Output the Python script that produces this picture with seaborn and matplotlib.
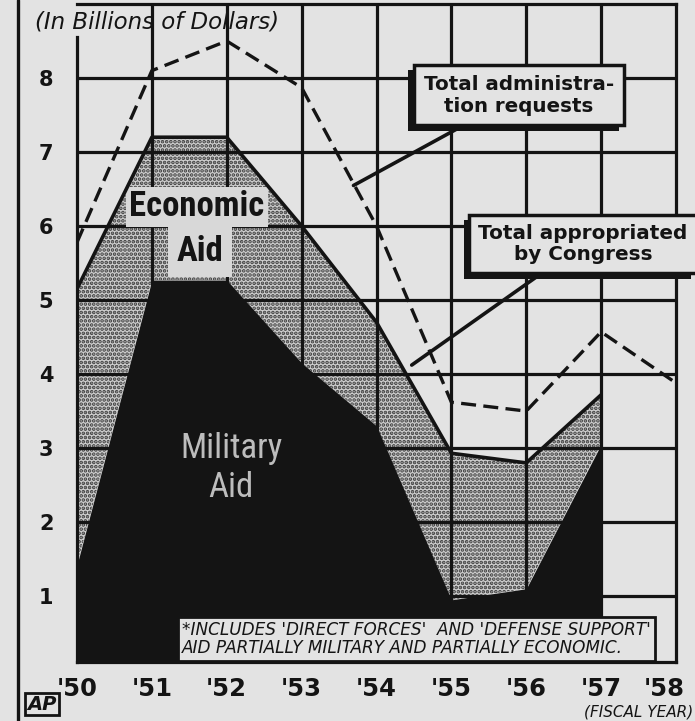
import matplotlib
matplotlib.use('Agg')
import numpy as np
import pandas as pd
import seaborn as sns
import matplotlib.pyplot as plt
import matplotlib.patheffects as pe
from matplotlib.lines import Line2D
from matplotlib.transforms import ScaledTranslation

# values (billions of dollars, fiscal years)
years = [1950, 1951, 1952, 1953, 1954, 1955, 1956, 1957, 1958]
year_labels = ["'50", "'51", "'52", "'53", "'54", "'55", "'56", "'57", "'58"]
requests = [5.78, 8.1, 8.5, 7.87, 6.0, 3.62, 3.5, 4.57, 3.88]
appropriated = [5.15, 7.2, 7.2, 6.0, 4.7, 2.93, 2.8, 3.72, np.nan]
military = [1.42, 5.27, 5.27, 4.15, 3.3, 0.95, 1.1, 3.05, np.nan]
y_ticks = [1, 2, 3, 4, 5, 6, 7, 8]

df = pd.DataFrame({'year': years, 'requests': requests,
                   'appropriated': appropriated, 'military': military})
aid = df.dropna()

paper = '#e3e3e3'
ink = '#141414'

sns.set_style('white')
plt.rcParams['font.family'] = ['DejaVu Sans']
plt.rcParams['hatch.linewidth'] = 1.8
plt.rcParams['hatch.color'] = '#3c3c3c'

fig = plt.figure(figsize=(6.95, 7.21), dpi=100, facecolor=paper)
ax = fig.add_axes([77 / 695, 59 / 721, 599 / 695, 658 / 721])
ax.set_facecolor(paper)

# economic aid band (dot screen), then grid, then military aid in black
ax.fill_between(aid['year'], aid['military'], aid['appropriated'],
                facecolor='#cdcdcd', hatch='....', edgecolor='#3c3c3c',
                linewidth=0, zorder=1)
for x in years[1:-1]:
    ax.axvline(x, color=ink, lw=2.3, zorder=2)
for y in y_ticks:
    ax.axhline(y, color=ink, lw=2.3, zorder=2)
ax.fill_between(aid['year'], 0, aid['military'], color=ink, lw=0, zorder=3)

sns.lineplot(data=df, x='year', y='requests', ax=ax, color=ink, lw=2.4,
             linestyle=(0, (4.5, 2.2)), zorder=5)
sns.lineplot(data=aid, x='year', y='appropriated', ax=ax, color=ink, lw=2.6,
             zorder=5)

ax.set_xlim(1950, 1958)
ax.set_ylim(0.11, 9.0)
ax.set_xticks(years)
ax.set_xticklabels(year_labels)
ax.set_yticks(y_ticks)
ax.set_xlabel('')
ax.set_ylabel('')
ax.tick_params(axis='both', length=0, labelsize=15)
ax.tick_params(axis='x', pad=11, labelsize=17.5)
ax.tick_params(axis='y', pad=17)
for lab in ax.get_xticklabels() + ax.get_yticklabels():
    lab.set_fontweight('heavy')
    lab.set_color(ink)
# last year label sits a little left of its gridline, as on the original
last = ax.get_xticklabels()[-1]
last.set_transform(last.get_transform() +
                   ScaledTranslation(-12 / 100, 0, fig.dpi_scale_trans))
for s in ax.spines.values():
    s.set_color(ink)
    s.set_linewidth(2.3)
    s.set_zorder(6)
ax.spines['left'].set_bounds(0.11, 8.55)

# area labels
narrow = ['Roboto Condensed', 'Liberation Sans Narrow', 'Roboto', 'DejaVu Sans']
ax.text(1951.6, 6.26, 'Economic', ha='center', va='center', fontsize=25,
        fontweight='bold', family=narrow, fontstretch='condensed',
        color=ink, zorder=4,
        bbox=dict(boxstyle='square,pad=0.1', fc='#d8d8d8', ec='none'))
ax.text(1951.64, 5.65, 'Aid', ha='center', va='center', fontsize=25,
        fontweight='bold', family=narrow, fontstretch='condensed',
        color=ink, zorder=4,
        bbox=dict(boxstyle='square,pad=0.25', fc='#d8d8d8', ec='none'))
ax.text(1952.06, 2.73, 'Military\nAid', ha='center', va='center',
        fontsize=25, family=narrow, fontstretch='condensed',
        color='#bdbdbd', linespacing=1.2, zorder=4)

# callout boxes
shadow = [pe.withSimplePatchShadow(offset=(-4, -4), shadow_rgbFace=ink,
                                   alpha=1)]
t1 = ax.annotate('Total administra-\ntion requests', xy=(1953.66, 6.53),
                 xytext=(519, 626), textcoords='figure pixels',
                 ha='center', va='center', fontsize=14.3, fontweight='bold',
                 color=ink, linespacing=1.2, zorder=7,
                 bbox=dict(boxstyle='square,pad=0.5', fc=paper, ec=ink,
                           lw=2.5),
                 arrowprops=dict(arrowstyle='-', color=ink, lw=2.6))
t1.get_bbox_patch().set_path_effects(shadow)
t2 = ax.annotate('Total appropriated\nby Congress', xy=(1954.44, 4.1),
                 xytext=(583, 477), textcoords='figure pixels',
                 ha='center', va='center', fontsize=14.4, fontweight='bold',
                 color=ink, linespacing=1.15, zorder=7,
                 bbox=dict(boxstyle='square,pad=0.45', fc=paper, ec=ink,
                           lw=2.5),
                 arrowprops=dict(arrowstyle='-', color=ink, lw=2.6))
t2.get_bbox_patch().set_path_effects(shadow)

# footnote
fig.text(182 / 695, 1 - 639 / 721,
         "*INCLUDES 'DIRECT FORCES'  AND 'DEFENSE SUPPORT'\n"
         "AID PARTIALLY MILITARY AND PARTIALLY ECONOMIC.",
         ha='left', va='center', fontsize=12.2, style='italic', color=ink,
         linespacing=0.95, zorder=8,
         bbox=dict(boxstyle='square,pad=0.25', fc=paper, ec=ink, lw=2))

# headings and credits
fig.text(35 / 695, 1 - 22 / 721, '(In Billions of Dollars)', ha='left',
         va='center', fontsize=16.5, style='italic', color=ink)
fig.text(584 / 695, 1 - 712 / 721, '(FISCAL YEAR)', ha='left', va='center',
         fontsize=11, style='italic', color=ink)
fig.text(42 / 695, 1 - 704 / 721, 'AP', ha='center', va='center',
         fontsize=14, fontweight='heavy', style='italic', color=ink,
         bbox=dict(boxstyle='square,pad=0.1', fc=paper, ec=ink, lw=2))
fig.add_artist(Line2D([18 / 695, 18 / 695], [0, 1], transform=fig.transFigure,
                      color=ink, lw=2.4))

fig.savefig('out.png', dpi=100, facecolor=paper)
